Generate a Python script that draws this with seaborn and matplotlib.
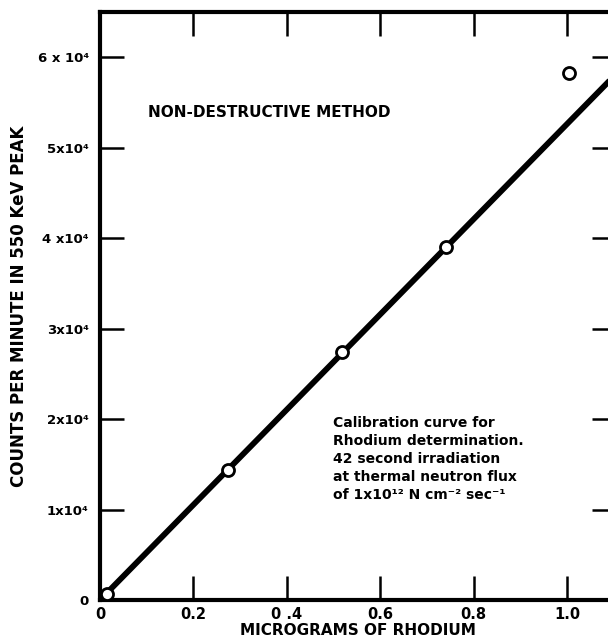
import matplotlib
matplotlib.use("Agg")
import matplotlib.pyplot as plt
import seaborn as sns
import pandas as pd

# Data
mass_ug = [0.015, 0.274, 0.518, 0.741, 1.004]
counts = [700, 14350, 27400, 39000, 58300]
fit_x = [0.0, 1.11]
fit_y = [0.0, 58400]

x_ticks = [0, 0.2, 0.4, 0.6, 0.8, 1.0]
x_tick_labels = ["0", "0.2", "0 .4", "0.6", "0.8", "1.0"]
y_ticks = [0, 10000, 20000, 30000, 40000, 50000, 60000]
y_tick_labels = ["0", "1x10⁴", "2x10⁴", "3x10⁴", "4 x10⁴", "5x10⁴", "6 x 10⁴"]

pts = pd.DataFrame({"x": mass_ug, "y": counts})
fit = pd.DataFrame({"x": fit_x, "y": fit_y})

sns.set_style("ticks")
plt.rcParams["font.family"] = ["DejaVu Sans"]
plt.rcParams["font.weight"] = "bold"
for k in ["text.color", "axes.labelcolor", "xtick.color", "ytick.color", "axes.edgecolor"]:
    plt.rcParams[k] = "black"

fig = plt.figure(figsize=(6.08, 6.43), dpi=100)
ax = fig.add_axes([100 / 608, 43 / 643, 516 / 608, 588 / 643])

sns.lineplot(data=fit, x="x", y="y", ax=ax, color="black", linewidth=4.2, zorder=2)
sns.scatterplot(data=pts, x="x", y="y", ax=ax, marker="o", s=75,
                facecolor="white", edgecolor="black", linewidth=2, zorder=3)

ax.set_xlim(0, 1.105)
ax.set_ylim(0, 65000)

ax.set_xticks(x_ticks)
ax.set_xticklabels(x_tick_labels, fontsize=10.5, fontweight="bold")
ax.set_yticks(y_ticks)
ax.set_yticklabels(y_tick_labels, fontsize=9.5, fontweight="bold")

ax.tick_params(axis="both", which="both", direction="in", length=17, width=1.8,
               top=True, right=True, labeltop=False, labelright=False, pad=8)
ax.tick_params(axis="x", pad=5)

for s in ax.spines.values():
    s.set_linewidth(3)
    s.set_color("black")

ax.set_xlabel("MICROGRAMS OF RHODIUM", fontsize=11, fontweight="bold", labelpad=1)
ax.set_ylabel("COUNTS PER MINUTE IN 550 KeV PEAK", fontsize=12, fontweight="bold", labelpad=7)

ax.text(0.103, 53900, "NON-DESTRUCTIVE METHOD", fontsize=11, fontweight="bold",
        ha="left", va="center")
ax.text(0.5, 20300,
        "Calibration curve for\nRhodium determination.\n42 second irradiation\nat thermal neutron flux\nof 1x10¹² N cm⁻² sec⁻¹",
        fontsize=10, fontweight="bold", ha="left", va="top", linespacing=1.35)

fig.savefig("out.png", dpi=100)
